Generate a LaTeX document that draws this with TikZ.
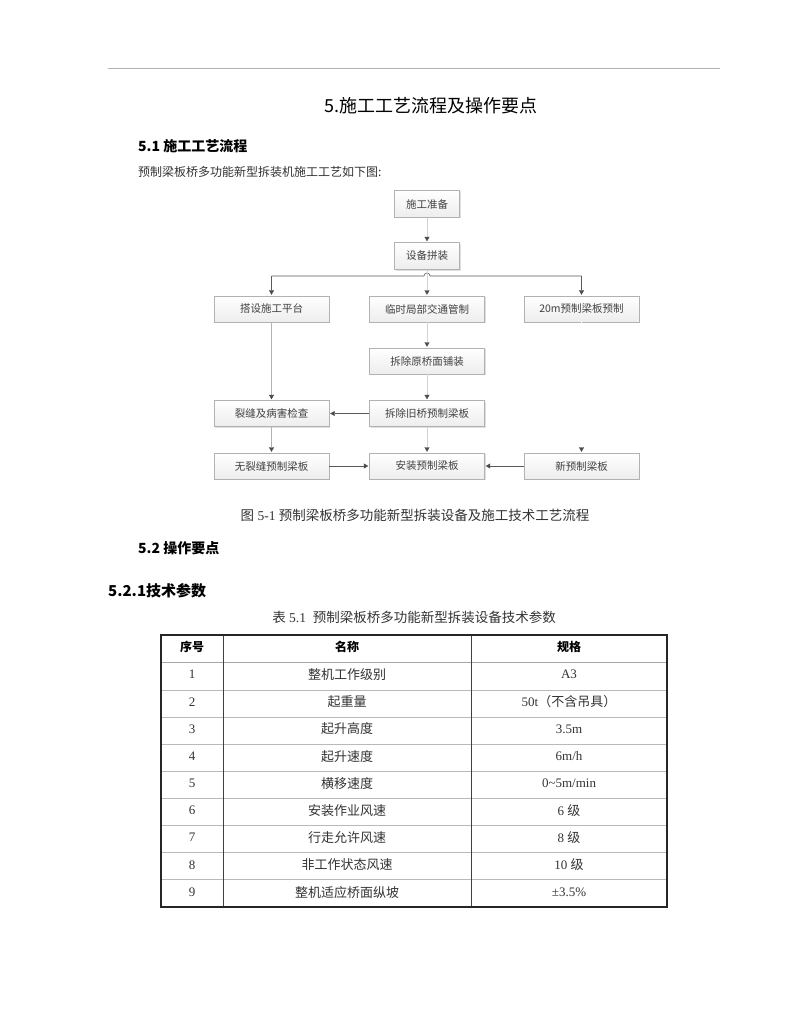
\documentclass[tikz,border=0pt]{standalone}
\usepackage{fontspec}
\setmainfont{Liberation Serif}
\newfontfamily\cjk{Noto Sans CJK SC}
\usetikzlibrary{arrows.meta,shadows}

\tikzset{
  procbox/.style={draw=gray!60, top color=white, bottom color=gray!14,
    minimum width=115pt, minimum height=26pt, inner sep=0pt,
    font=\cjk\fontsize{10.5}{12}\selectfont, text=black!75,
    drop shadow={shadow xshift=1pt, shadow yshift=-1pt, opacity=0.25}},
  smallbox/.style={procbox, minimum width=65pt, minimum height=27pt},
  tip/.style={-{Triangle[length=4.5pt,width=5pt,color=black!70]}, shorten >=1pt},
  lineL/.style={tip, draw=gray!35},
  lineM/.style={tip, draw=gray!60},
  lineD/.style={tip, draw=black!65, line width=0.6pt},
  lineX/.style={tip, draw=white},
  cell/.style={font=\fontsize{13}{15}\selectfont, text=black!80},
  head/.style={font=\cjk\bfseries\fontsize{12}{14}\selectfont},
}

\begin{document}
\begin{tikzpicture}[x=1pt, y=-1pt]
\useasboundingbox[fill=white] (0,0) rectangle (791,1024);

% header rule and texts
\draw[gray!60, line width=0.8pt] (108,68) -- (720,68);
\node (title) at (431,106) {\cjk\fontsize{18}{20}\selectfont 5.施工工艺流程及操作要点};
\node[anchor=west, inner sep=0pt] (sec51) at (138,146) {\cjk\bfseries\fontsize{14}{16}\selectfont 5.1 施工工艺流程};
\node[anchor=west, inner sep=0pt, text=black!80] (intro) at (138,172) {\cjk\fontsize{12}{14}\selectfont 预制梁板桥多功能新型拆装机施工工艺如下图:};

% flow chart
\node[smallbox] (prep) at (427,204) {施工准备};
\node[smallbox] (assem) at (427,256) {设备拼装};
\node[procbox] (platform) at (271.5,309) {搭设施工平台};
\node[procbox] (traffic) at (427,309) {临时局部交通管制};
\node[procbox] (precast) at (581.5,309) {20m预制梁板预制};
\node[procbox] (deck) at (427,361) {拆除原桥面铺装};
\node[procbox] (check) at (271.5,413.5) {裂缝及病害检查};
\node[procbox] (remove) at (427,413.5) {拆除旧桥预制梁板};
\node[procbox] (sound) at (271.5,466) {无裂缝预制梁板};
\node[procbox] (install) at (427,466) {安装预制梁板};
\node[procbox] (newbeam) at (581.5,466) {新预制梁板};

\coordinate (busL) at (271.5,276);
\coordinate (busR) at (581.5,276);
\draw[black!65, line width=0.6pt] (busL) -- (424,276) arc (180:360:3) -- (busR);

\draw[lineL] (prep) -- (assem);
\draw[lineL] (assem) -- (traffic);
\draw[lineD] (busL) -- (platform);
\draw[lineD] (busR) -- (precast);
\draw[lineL] (traffic) -- (deck);
\draw[lineL] (deck) -- (remove);
\draw[lineM] (platform) -- (check);
\draw[lineD] (remove) -- (check);
\draw[lineM] (check) -- (sound);
\draw[lineL] (remove) -- (install);
\draw[lineD] (sound) -- (install);
\draw[lineD] (newbeam) -- (install);
\draw[lineX] (precast) -- (newbeam);

% caption and sections
\node[text=black!80] (caption) at (415,515) {\fontsize{13.5}{15}\selectfont{\cjk 图} 5-1 {\cjk 预制梁板桥多功能新型拆装设备及施工技术工艺流程}};
\node[anchor=west, inner sep=0pt] (sec52) at (138,548) {\cjk\bfseries\fontsize{14}{16}\selectfont 5.2 操作要点};
\node[anchor=west, inner sep=0pt] (sec521) at (108,591) {\cjk\bfseries\fontsize{15}{17}\selectfont 5.2.1技术参数};
\node[text=black!80] (tabcap) at (414,617) {\fontsize{13.5}{15}\selectfont{\cjk 表} 5.1\ \ {\cjk 预制梁板桥多功能新型拆装设备技术参数}};

% table
\foreach \y in {690,717,744,771,798,825,852,879}
  \draw[gray!55, line width=0.8pt] (161,\y) -- (667,\y);
\draw[gray!70, line width=1pt] (161,662) -- (667,662);
\draw[black!75, line width=0.8pt] (223,635) -- (223,907) (471,635) -- (471,907);
\draw[black!85, line width=1.6pt] (161,635) rectangle (667,907);

\node[head] (h1) at (192,647) {序号};
\node[head] (h2) at (347,647) {名称};
\node[head] (h3) at (569,647) {规格};

\foreach \n/\name/\spec in {
  1/整机工作级别/A3,
  2/起重量/{50t{\cjk （不含吊具）}},
  3/起升高度/3.5m,
  4/起升速度/{6m\slash h},
  5/横移速度/{0\textasciitilde5m\slash min},
  6/安装作业风速/{6 {\cjk 级}},
  7/行走允许风速/{8 {\cjk 级}},
  8/非工作状态风速/{10 {\cjk 级}},
  9/整机适应桥面纵坡/{±3.5\%}}
{
  \node[cell] (n\n) at (192,{674.5+27.2*(\n-1)}) {\n};
  \node[cell] (m\n) at (347,{674.5+27.2*(\n-1)}) {\cjk\name};
  \node[cell] (s\n) at (569,{674.5+27.2*(\n-1)}) {\spec};
}
\end{tikzpicture}
\end{document}
